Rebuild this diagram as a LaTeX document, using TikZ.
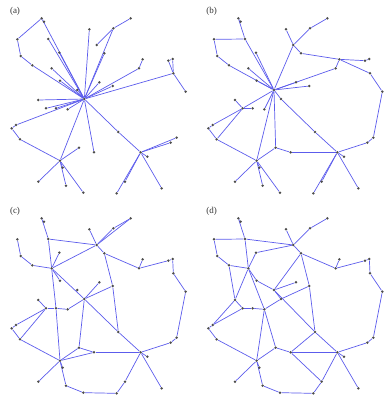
\documentclass[tikz,border=0pt]{standalone}
\usepackage{fontspec}
\setmainfont{Liberation Serif}
\usetikzlibrary{backgrounds}
\definecolor{edgeblue}{RGB}{92,92,236}
\tikzset{
	vtx/.style={circle, fill=black!70, inner sep=0pt, minimum size=2.8pt},
	lnk/.style={draw=edgeblue, line width=0.7pt},
	paneltag/.style={font=\fontsize{9}{10}\selectfont, text=black!80}
}
\newcommand{\vertices}{T1/125/55, T2/132/65, T3/145/117, L1/52/118, L2/62/168, L3/97/196,
	M1/178/158, M2/155/205, M3/180/242, M4/232/270, H/253/297,
	U1/268/88, U2/290/135, U3/313/160, U4/340/85, U5/392/55,
	R1/428/178, R2/417/205, C1/298/247, C2/338/258,
	E1/505/182, E2/518/177, E3/520/220, E4/557/275,
	W1/115/300, W2/138/325, W3/168/325, W4/203/328,
	S1/48/375, S2/35/385, S3/60/418, D1/355/396,
	B1/237/443, B2/282/457, BH/180/482, B3/188/503, B4/115/545, B5/198/557, B6/250/578,
	CH/422/457, C3/442/470, Q1/530/413, Q2/512/428, Q3/375/545, Q4/350/580, Q5/485/565}
\newcommand{\drawpanel}[4]{%
	\begin{scope}[shift={(#2,#3)}]
		\node[paneltag] (#1tag) at (45,35) {(#1)};
		\foreach \nm/\vx/\vy in \vertices {\node[vtx] (#1\nm) at (\vx,\vy) {};}
		\begin{pgfonlayer}{background}
			\foreach \ea/\eb in {#4} {\draw[lnk] (#1\ea) -- (#1\eb);}
		\end{pgfonlayer}
	\end{scope}
}

\begin{document}
\begin{tikzpicture}[x=0.3333pt, y=-0.3333pt]
	\useasboundingbox (0,0) rectangle (1167,1206);

	\drawpanel{a}{0}{0}{T1/T2, T1/L1, L1/L2, L2/L3, L3/H, T1/H, T3/H, M1/H, M2/H, M3/H, M4/H,
		U1/H, U4/U2, U4/U5, U4/H, U3/H, R1/R2, R2/H, C1/H, C2/H,
		E3/H, E3/E1, E1/E2, E3/E2, E3/E4, W1/H, W2/H, W3/H, W4/H,
		S1/H, S1/S2, S2/S3, S3/BH, BH/H, B1/BH, B2/H, BH/B4, BH/B5, BH/B6, BH/B3,
		H/D1, D1/CH, CH/Q1, CH/Q2, CH/C3, CH/Q3, CH/Q4, CH/Q5}

	\drawpanel{b}{590}{0}{T1/T2, T1/T3, T3/M4, L1/T3, L1/L2, L2/L3, L3/M4, M1/M4, M2/M4, M3/M4,
		U2/M4, U2/U1, U2/U4, U4/U5, U2/U3, U3/R1, R1/E1, E1/E2, R1/E3, E3/E4,
		E4/Q1, Q1/Q2, Q2/CH, R2/M4, R1/R2, C1/M4, C2/M4, M4/H, H/D1, D1/CH,
		W2/W1, W2/W3, W2/M4, W2/S1, W2/S3, S3/BH, S1/S2, S2/S3, W4/M4,
		B1/M4, BH/M4, B1/B2, B2/CH, B1/BH, BH/B4, BH/B5, BH/B6, BH/B3,
		CH/Q3, CH/Q4, CH/Q5, CH/C3}

	\drawpanel{c}{0}{600}{T1/T2, T1/T3, T3/M2, T3/U2, L1/L2, L2/L3, L3/M2, M1/M2, M2/M3, M2/U2, M2/H,
		U2/U1, U2/U4, U4/U5, U2/U5, U2/U3, U3/C2, U3/R2, R2/R1, R2/E1, E1/E2, E2/E3,
		E3/E4, E4/Q1, Q1/Q2, Q2/CH, C1/H, C2/H, C2/D1, H/D1, D1/CH,
		W1/W2, W2/W3, W3/W4, W4/H, W2/S1, W2/S3, M2/W3, W3/BH, S1/S2, S2/S3, S3/BH,
		H/B1, B1/BH, B1/B2, B2/CH, BH/B4, BH/B5, BH/B3, BH/B2,
		B6/Q4, B5/B6, Q4/Q3, Q3/CH, CH/Q5, CH/C3}

	\drawpanel{d}{590}{600}{T1/T2, T1/T3, L1/T3, T3/U2, L1/L2, L2/L3, T3/M2, M1/U2, M1/M2,
		L3/M2, L3/W1, M2/M3, M3/M4, U2/U1, U2/U4, U4/U5, U2/U3, U3/R2, R2/R1, R2/E1,
		E1/E2, E2/E3, E3/E4, E4/Q1, Q1/Q2, Q2/CH, U3/C2, U3/M4, C1/M4, C2/H, H/W4,
		C2/D1, M4/D1, D1/CH, W1/W2, W2/W3, W3/W4, W1/S1, W1/M2, W4/M2, W4/BH,
		S1/S2, S2/S3, S3/BH, S1/W2, B1/B2, B2/CH, B1/BH, B1/W4, B2/D1, B2/Q3,
		Q3/CH, Q3/Q4, Q4/B6, B6/B5, B5/BH, BH/B4, BH/B3, CH/C3, CH/Q5, H/M4}
\end{tikzpicture}
\end{document}
